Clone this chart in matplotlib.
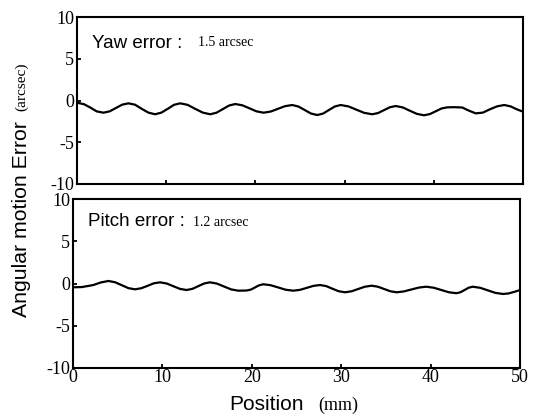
import matplotlib
matplotlib.use('Agg')
import matplotlib.pyplot as plt

# Values: position (mm) and angular error (arcsec)
yaw_pos = [0.0, 0.8, 1.5, 2.2, 2.96, 3.66, 4.36, 5.06, 5.76, 6.5, 7.26, 8.0, 8.76,
           9.46, 10.17, 10.87, 11.57, 12.4, 13.25, 14.1, 14.94, 15.64, 16.35, 17.05,
           17.75, 18.55, 19.34, 20.13, 20.93, 21.73, 22.52, 23.32, 24.12, 24.82,
           25.53, 26.23, 26.93, 27.6, 28.24, 28.9, 29.55, 30.44, 31.32, 32.2, 33.1,
           33.76, 34.4, 35.07, 35.73, 36.52, 37.3, 38.1, 38.9, 39.55, 40.2, 40.85,
           41.5, 42.3, 43.2, 43.9, 44.7, 45.5, 46.3, 47.1, 47.9, 48.6, 49.3, 50.0]
yaw_err = [-0.26, -0.45, -0.85, -1.3, -1.46, -1.3, -0.9, -0.5, -0.34, -0.5, -1.0,
           -1.45, -1.65, -1.45, -1.0, -0.52, -0.34, -0.52, -1.0, -1.45, -1.65, -1.46,
           -1.03, -0.6, -0.42, -0.58, -0.94, -1.3, -1.46, -1.32, -1.0, -0.68, -0.54,
           -0.72, -1.14, -1.56, -1.74, -1.56, -1.14, -0.72, -0.54, -0.71, -1.1, -1.48,
           -1.65, -1.5, -1.16, -0.81, -0.66, -0.83, -1.22, -1.6, -1.77, -1.63, -1.3,
           -0.96, -0.82, -0.8, -0.84, -1.2, -1.54, -1.45, -1.05, -0.7, -0.54, -0.7,
           -1.05, -1.34]

pitch_pos = [0.0, 1.0, 2.28, 3.1, 3.96, 4.7, 5.45, 6.2, 6.94, 7.64, 8.33, 9.03, 9.73,
             10.48, 11.22, 11.97, 12.71, 13.36, 14.0, 14.67, 15.32, 16.1, 16.9, 17.7,
             18.48, 19.42, 19.9, 20.35, 20.8, 21.28, 22.1, 22.96, 23.8, 24.64, 25.4,
             26.13, 26.9, 27.63, 28.33, 29.0, 29.7, 30.42, 31.17, 31.9, 32.65, 33.4,
             34.1, 34.8, 35.5, 36.2, 37.0, 37.85, 38.7, 39.5, 40.35, 41.2, 42.05, 42.9,
             43.35, 43.8, 44.25, 44.7, 45.55, 46.4, 47.25, 48.1, 48.7, 49.4, 50.0]
pitch_err = [-0.45, -0.42, -0.18, 0.12, 0.30, 0.15, -0.2, -0.55, -0.69, -0.56, -0.28,
             0.02, 0.14, 0.0, -0.32, -0.64, -0.77, -0.63, -0.32, 0.0, 0.14, -0.01,
             -0.36, -0.7, -0.85, -0.83, -0.72, -0.47, -0.22, -0.09, -0.2, -0.47, -0.74,
             -0.85, -0.75, -0.52, -0.28, -0.18, -0.31, -0.61, -0.91, -1.04, -0.92,
             -0.65, -0.38, -0.26, -0.38, -0.65, -0.92, -1.04, -0.94, -0.71, -0.48,
             -0.38, -0.5, -0.77, -1.04, -1.15, -1.03, -0.77, -0.5, -0.38, -0.51, -0.81,
             -1.11, -1.24, -1.18, -0.98, -0.77]

x_ticks = [0, 10, 20, 30, 40, 50]
y_ticks = [-10, -5, 0, 5, 10]

plt.rcParams['font.family'] = 'Liberation Serif'
plt.rcParams['axes.unicode_minus'] = False

W, H = 534.0, 418.0
fig = plt.figure(figsize=(W / 100, H / 100), dpi=100)

ax_yaw = fig.add_axes([77 / W, 1 - 184 / H, 446 / W, 167 / H])
ax_pitch = fig.add_axes([73 / W, 1 - 368 / H, 447 / W, 169 / H])

for ax, pos, err in [(ax_yaw, yaw_pos, yaw_err), (ax_pitch, pitch_pos, pitch_err)]:
    ax.plot(pos, err, color='black', lw=1.6)
    ax.set_xlim(0, 50)
    ax.set_ylim(-10, 10)
    ax.set_xticks(x_ticks)
    ax.set_yticks(y_ticks)
    ax.set_yticklabels([str(v) for v in y_ticks])
    ax.tick_params(direction='in', length=3, width=1.3, labelsize=13, pad=2)
    ax.tick_params(axis='x', pad=1)
    for s in ax.spines.values():
        s.set_linewidth(1.5)

ax_yaw.set_xticklabels([])
ax_pitch.set_xticklabels([str(v) for v in x_ticks])

# panel labels (sans name, serif value)
fig.text(92 / W, 1 - 43 / H, 'Yaw error :', family='Liberation Sans', size=13.5, va='center')
fig.text(198 / W, 1 - 43 / H, '1.5 arcsec', size=10, va='center')
fig.text(88 / W, 1 - 222 / H, 'Pitch error :', family='Liberation Sans', size=13.5, va='center')
fig.text(193 / W, 1 - 222 / H, '1.2 arcsec', size=10, va='center')

# axis titles, built from two pieces like the original
fig.text(22 / W, 1 - 219 / H, 'Angular motion Error', family='Liberation Sans', size=15.3,
         rotation=90, ha='center', va='center')
fig.text(22 / W, 1 - 87 / H, '(arcsec)', size=11, rotation=90, ha='center', va='center')
fig.text(266.5 / W, 1 - 405 / H, 'Position', family='Liberation Sans', size=15,
         ha='center', va='center')
fig.text(338 / W, 1 - 405 / H, '(mm)', size=13, ha='center', va='center')

fig.savefig('out.png', dpi=100)
